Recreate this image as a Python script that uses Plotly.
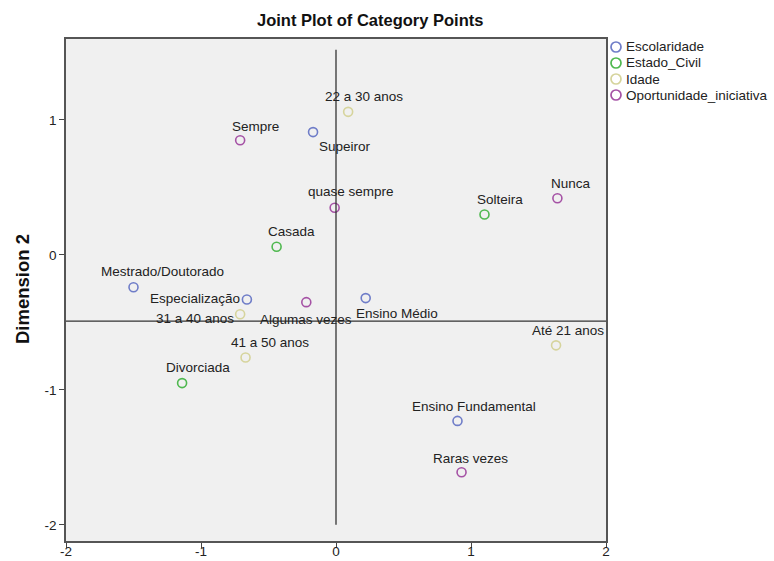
import plotly.graph_objects as go

# Category point coordinates (Dimension 1, Dimension 2) per variable
escolaridade_labels = ["Mestrado/Doutorado", "Especialização", "Ensino Médio", "Supeiror", "Ensino Fundamental"]
escolaridade_x = [-1.50, -0.66, 0.22, -0.17, 0.90]
escolaridade_y = [-0.24, -0.33, -0.32, 0.91, -1.23]

estado_civil_labels = ["Casada", "Solteira", "Divorciada"]
estado_civil_x = [-0.44, 1.10, -1.14]
estado_civil_y = [0.06, 0.30, -0.95]

idade_labels = ["22 a 30 anos", "31 a 40 anos", "41 a 50 anos", "Até 21 anos"]
idade_x = [0.09, -0.71, -0.67, 1.63]
idade_y = [1.06, -0.44, -0.76, -0.67]

oportunidade_labels = ["Sempre", "quase sempre", "Algumas vezes", "Raras vezes", "Nunca"]
oportunidade_x = [-0.71, -0.01, -0.22, 0.93, 1.64]
oportunidade_y = [0.85, 0.35, -0.35, -1.61, 0.42]

x_ticks = [-2, -1, 0, 1, 2]
y_ticks = [-2, -1, 0, 1]

# reference lines
ref_vertical_x = 0
ref_vertical_span = [-2.0, 1.52]
ref_horizontal_y = -0.49

series = [
    ("Escolaridade", escolaridade_labels, escolaridade_x, escolaridade_y, "#6f7dc8"),
    ("Estado_Civil", estado_civil_labels, estado_civil_x, estado_civil_y, "#4fb84f"),
    ("Idade", idade_labels, idade_x, idade_y, "#d6d49c"),
    ("Oportunidade_iniciativa", oportunidade_labels, oportunidade_x, oportunidade_y, "#a552a5"),
]

# label placement (pixel offsets from the point, anchor)
label_style = {
    "Mestrado/Doutorado": (29, 16, "center"),
    "Especialização": (-5, 1, "right"),
    "Ensino Médio": (31, -15, "center"),
    "Supeiror": (32, -14, "center"),
    "Ensino Fundamental": (16, 14, "center"),
    "Casada": (15, 15, "center"),
    "Solteira": (15, 15, "center"),
    "Divorciada": (16, 16, "center"),
    "22 a 30 anos": (16, 15, "center"),
    "31 a 40 anos": (-4, -4, "right"),
    "41 a 50 anos": (24, 15, "center"),
    "Até 21 anos": (12, 15, "center"),
    "Sempre": (15, 14, "center"),
    "quase sempre": (16, 16, "center"),
    "Algumas vezes": (0, -17, "center"),
    "Raras vezes": (9, 14, "center"),
    "Nunca": (14, 15, "center"),
}

FONT = "Arial, 'Liberation Sans', sans-serif"
W, H = 774, 561
ML, MR, MT, MB = 66, 168, 39, 20
PW, PH = W - ML - MR, H - MT - MB

fig = go.Figure()
annotations = []
shapes = []
for i, (name, labels, xs, ys, color) in enumerate(series):
    fig.add_trace(go.Scatter(
        x=xs, y=ys, mode="markers", name=name, showlegend=False,
        marker=dict(symbol="circle-open", size=9, color=color, line=dict(width=1.6, color=color)),
        hoverinfo="text", text=labels,
    ))
    for lab, xv, yv in zip(labels, xs, ys):
        dx, dy, anchor = label_style[lab]
        annotations.append(dict(
            x=xv, y=yv, xref="x", yref="y", text=lab, showarrow=False,
            xanchor=anchor, yanchor="middle", xshift=dx, yshift=dy,
            font=dict(family=FONT, size=13.5, color="#222222"),
        ))
    # legend entry: open circle + name, stacked at the top right
    ly = 1 - (47 + 16 * i - MT) / PH
    lx = (616 - ML) / PW
    shapes.append(dict(
        type="circle", xref="paper", yref="paper", xsizemode="pixel", ysizemode="pixel",
        xanchor=lx, yanchor=ly, x0=-5, x1=5, y0=-5, y1=5,
        line=dict(color=color, width=1.7),
    ))
    annotations.append(dict(
        x=lx, y=ly, xref="paper", yref="paper", xshift=8, text=name, showarrow=False,
        xanchor="left", yanchor="middle",
        font=dict(family=FONT, size=13.5, color="#222222"),
    ))

shapes += [
    dict(type="line", xref="x", yref="y", x0=ref_vertical_x, x1=ref_vertical_x,
         y0=ref_vertical_span[0], y1=ref_vertical_span[1], line=dict(color="#333333", width=1.3)),
    dict(type="line", xref="paper", yref="y", x0=0, x1=1,
         y0=ref_horizontal_y, y1=ref_horizontal_y, line=dict(color="#333333", width=1.3)),
]

annotations.append(dict(
    x=(370 - ML) / PW, y=1, xref="paper", yref="paper", yshift=19,
    text="<b>Joint Plot of Category Points</b>", showarrow=False,
    xanchor="center", yanchor="middle",
    font=dict(family=FONT, size=16.5, color="#111111"),
))
annotations.append(dict(
    x=0, y=1 - (289 - MT) / PH, xref="paper", yref="paper", xshift=-(ML - 22),
    text="<b>Dimension 2</b>", showarrow=False, textangle=-90,
    xanchor="center", yanchor="middle",
    font=dict(family=FONT, size=18.5, color="#111111"),
))

axis_common = dict(
    showgrid=False, zeroline=False, showline=True, mirror=True, automargin=False,
    linecolor="#555555", linewidth=1.5, ticks="outside", ticklen=5,
    tickcolor="#444444", tickwidth=1.3,
    tickfont=dict(family=FONT, size=13.5, color="#222222"),
)

fig.update_layout(
    width=W, height=H,
    margin=dict(l=ML, r=MR, t=MT, b=MB, pad=0),
    paper_bgcolor="white", plot_bgcolor="#f0f0f0",
    shapes=shapes, annotations=annotations,
    showlegend=False,
    xaxis=dict(range=[-2, 2], tickvals=x_ticks, ticktext=[str(v) for v in x_ticks],
               ticklabelstandoff=-8, **axis_common),
    yaxis=dict(range=[-2.12, 1.6], tickvals=y_ticks, ticktext=[str(v) for v in y_ticks],
               **axis_common),
)

fig.write_html("out.html")
